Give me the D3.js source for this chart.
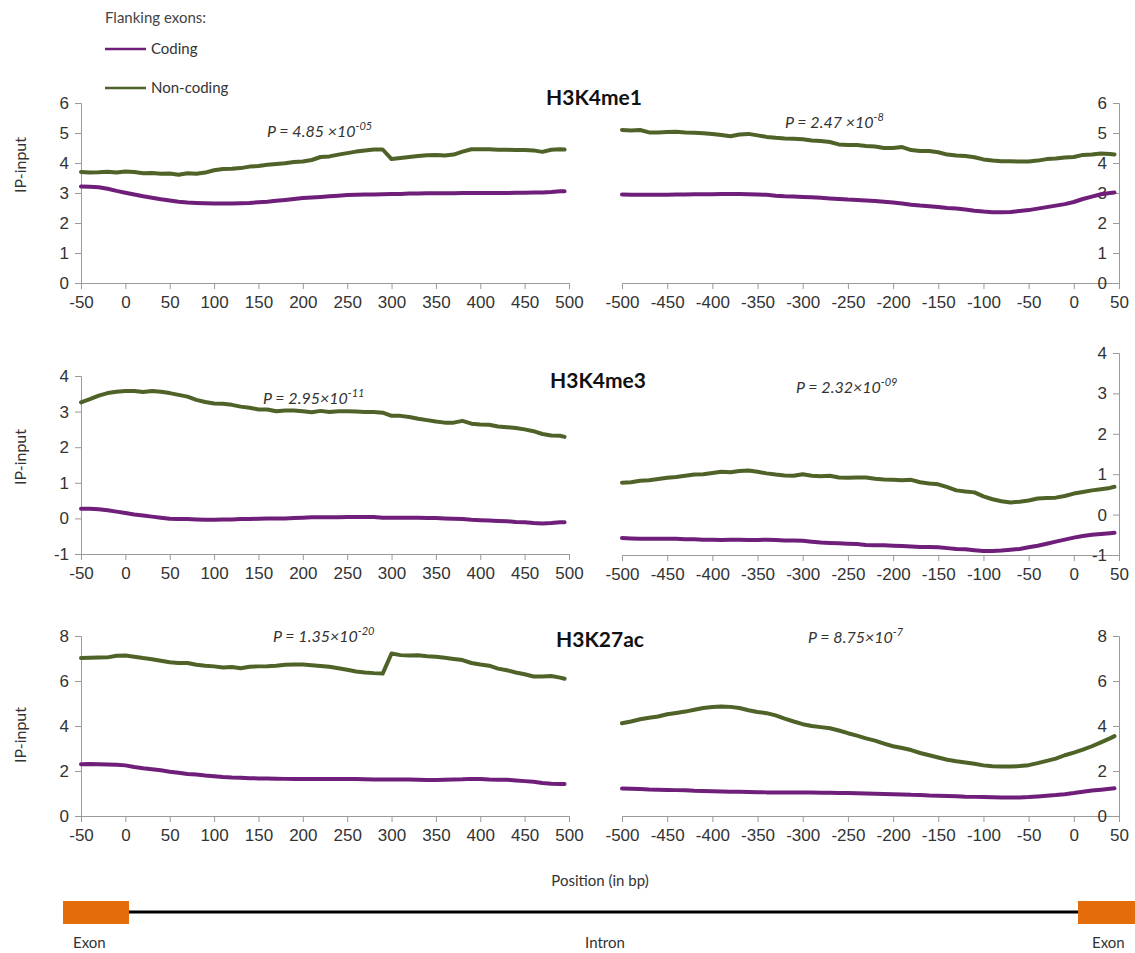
<!DOCTYPE html>
<html>
<head>
<meta charset="utf-8">
<script src="https://cdn.jsdelivr.net/npm/d3@7"></script>
<style>
  html, body { margin: 0; padding: 0; background: #fff; }
  svg { display: block; font-family: Lato, "Open Sans", sans-serif; }
  .tick text { font-size: 17px; fill: #333; }
  .axis path, .axis line { stroke: #9a9a9a; stroke-width: 1; }
</style>
</head>
<body>
<svg id="chart" width="1135" height="953"></svg>
<script>
// Sample positions (bp) for the exon-proximal (left) and exon-distal (right) windows
const posLeft = [...d3.range(-50, 500, 10), 495];
const posRight = [...d3.range(-500, 50, 10), 45];

// H3K4me1
const me1LeftNoncoding = [3.70,3.68,3.69,3.71,3.68,3.72,3.70,3.66,3.67,3.64,3.65,3.61,3.66,3.64,3.68,3.76,3.80,3.81,3.83,3.88,3.90,3.94,3.97,3.99,4.03,4.05,4.10,4.20,4.22,4.28,4.33,4.38,4.42,4.45,4.45,4.13,4.17,4.20,4.23,4.26,4.27,4.25,4.28,4.38,4.46,4.46,4.46,4.44,4.44,4.43,4.43,4.42,4.37,4.44,4.46,4.45];
const me1LeftCoding = [3.22,3.21,3.19,3.14,3.07,3.01,2.95,2.89,2.84,2.79,2.75,2.71,2.68,2.67,2.66,2.65,2.65,2.65,2.66,2.67,2.69,2.71,2.74,2.77,2.80,2.83,2.85,2.87,2.89,2.91,2.93,2.94,2.95,2.95,2.96,2.97,2.97,2.98,2.98,2.99,2.99,2.99,2.99,3.00,3.00,3.00,3.00,3.00,3.00,3.01,3.01,3.02,3.02,3.03,3.06,3.06];
const me1RightNoncoding = [5.10,5.08,5.10,5.02,5.02,5.03,5.04,5.02,5.01,4.99,4.97,4.93,4.89,4.95,4.97,4.92,4.87,4.84,4.82,4.81,4.79,4.75,4.73,4.70,4.62,4.60,4.60,4.57,4.55,4.50,4.50,4.53,4.43,4.40,4.40,4.36,4.28,4.25,4.23,4.19,4.12,4.08,4.06,4.06,4.05,4.05,4.08,4.13,4.15,4.18,4.20,4.27,4.28,4.32,4.30,4.28];
const me1RightCoding = [2.95,2.94,2.94,2.94,2.94,2.94,2.95,2.95,2.96,2.96,2.96,2.97,2.97,2.97,2.96,2.95,2.94,2.91,2.89,2.88,2.87,2.86,2.84,2.82,2.80,2.78,2.77,2.75,2.73,2.71,2.68,2.65,2.61,2.58,2.56,2.53,2.50,2.48,2.45,2.41,2.38,2.36,2.36,2.37,2.40,2.43,2.48,2.53,2.58,2.63,2.70,2.80,2.88,2.96,3.00,3.02];

// H3K4me3
const me3LeftNoncoding = [3.26,3.35,3.45,3.52,3.56,3.58,3.58,3.55,3.58,3.56,3.52,3.47,3.42,3.33,3.27,3.23,3.22,3.19,3.14,3.11,3.06,3.06,3.01,3.03,3.03,3.01,2.98,3.02,2.99,3.01,3.01,3.00,2.99,2.99,2.97,2.88,2.88,2.85,2.80,2.76,2.72,2.69,2.69,2.74,2.66,2.64,2.63,2.58,2.56,2.54,2.50,2.45,2.37,2.33,2.32,2.29];
const me3LeftCoding = [0.27,0.27,0.26,0.23,0.19,0.15,0.11,0.08,0.05,0.02,-0.01,-0.02,-0.02,-0.03,-0.04,-0.04,-0.03,-0.03,-0.02,-0.02,-0.01,0.00,0.00,0.00,0.01,0.02,0.03,0.03,0.03,0.03,0.04,0.04,0.04,0.04,0.02,0.02,0.02,0.02,0.02,0.01,0.01,0.00,-0.01,-0.02,-0.04,-0.05,-0.06,-0.07,-0.08,-0.10,-0.11,-0.13,-0.14,-0.13,-0.11,-0.11];
const me3RightNoncoding = [0.79,0.80,0.84,0.85,0.88,0.91,0.93,0.96,0.99,1.00,1.03,1.06,1.05,1.08,1.09,1.06,1.02,0.99,0.97,0.96,1.00,0.96,0.95,0.96,0.92,0.91,0.92,0.92,0.89,0.87,0.86,0.85,0.86,0.80,0.77,0.75,0.68,0.60,0.57,0.55,0.45,0.38,0.33,0.30,0.32,0.35,0.40,0.41,0.42,0.46,0.52,0.56,0.60,0.63,0.66,0.69];
const me3RightCoding = [-0.58,-0.59,-0.60,-0.60,-0.60,-0.60,-0.60,-0.61,-0.61,-0.62,-0.62,-0.63,-0.62,-0.62,-0.63,-0.63,-0.62,-0.63,-0.64,-0.64,-0.65,-0.67,-0.69,-0.70,-0.71,-0.72,-0.73,-0.75,-0.76,-0.76,-0.77,-0.78,-0.79,-0.80,-0.80,-0.81,-0.83,-0.85,-0.86,-0.88,-0.90,-0.90,-0.89,-0.87,-0.85,-0.81,-0.77,-0.72,-0.67,-0.62,-0.57,-0.53,-0.50,-0.48,-0.46,-0.45];

// H3K27ac
const ac27LeftNoncoding = [7.02,7.03,7.04,7.05,7.12,7.13,7.08,7.02,6.97,6.90,6.83,6.80,6.80,6.72,6.68,6.65,6.60,6.62,6.57,6.63,6.65,6.66,6.68,6.72,6.73,6.73,6.70,6.67,6.63,6.57,6.50,6.42,6.38,6.35,6.33,7.22,7.15,7.13,7.14,7.10,7.08,7.03,6.98,6.93,6.80,6.73,6.68,6.55,6.48,6.38,6.30,6.20,6.20,6.22,6.15,6.10];
const ac27LeftCoding = [2.30,2.31,2.30,2.29,2.28,2.25,2.18,2.12,2.08,2.03,1.97,1.92,1.87,1.84,1.80,1.77,1.73,1.71,1.70,1.68,1.67,1.67,1.66,1.65,1.64,1.65,1.65,1.65,1.65,1.65,1.65,1.64,1.63,1.62,1.62,1.62,1.62,1.62,1.61,1.60,1.60,1.61,1.62,1.63,1.65,1.64,1.62,1.61,1.61,1.58,1.55,1.52,1.47,1.43,1.42,1.42];
const ac27RightNoncoding = [4.12,4.20,4.30,4.37,4.42,4.52,4.58,4.64,4.72,4.80,4.84,4.87,4.85,4.80,4.70,4.62,4.57,4.47,4.33,4.20,4.08,4.00,3.95,3.90,3.80,3.68,3.57,3.45,3.35,3.22,3.10,3.02,2.93,2.80,2.70,2.60,2.50,2.43,2.38,2.32,2.25,2.21,2.20,2.20,2.22,2.26,2.35,2.45,2.55,2.70,2.82,2.95,3.10,3.27,3.45,3.55];
const ac27RightCoding = [1.22,1.21,1.20,1.18,1.17,1.16,1.15,1.14,1.12,1.11,1.10,1.09,1.08,1.08,1.07,1.06,1.05,1.05,1.05,1.04,1.04,1.04,1.03,1.03,1.02,1.02,1.01,1.00,0.99,0.98,0.97,0.96,0.94,0.93,0.91,0.90,0.89,0.88,0.86,0.85,0.84,0.83,0.82,0.82,0.82,0.84,0.87,0.90,0.93,0.97,1.02,1.08,1.13,1.17,1.21,1.23];

// Marks, axis ranges and P-values
const markNames = ["H3K4me1", "H3K4me3", "H3K27ac"];
const yDomains = [[0, 6], [-1, 4], [0, 8]];
const yTickSteps = [1, 1, 2];
const pLeft = [["4.85 ", "-05"], ["2.95", "-11"], ["1.35", "-20"]];
const pRight = [["2.47 ", "-8"], ["2.32", "-09"], ["8.75", "-7"]];
const leftTicks = d3.range(-50, 501, 50);
const rightTicks = d3.range(-500, 51, 50);

const seriesNames = ["Coding", "Non-coding"];
const colors = { "Coding": "#6f1f79", "Non-coding": "#4f6228" };

const data = [
  { left: [me1LeftCoding, me1LeftNoncoding], right: [me1RightCoding, me1RightNoncoding] },
  { left: [me3LeftCoding, me3LeftNoncoding], right: [me3RightCoding, me3RightNoncoding] },
  { left: [ac27LeftCoding, ac27LeftNoncoding], right: [ac27RightCoding, ac27RightNoncoding] }
];

// Panel layout (pixels)
const layout = [
  { title: [594, 105], left: [283, 103], right: [283, 103], pL: [267, 137], pR: [785, 128], ylab: 165 },
  { title: [598, 388], left: [554, 376], right: [555, 353], pL: [263, 404], pR: [796, 393], ylab: 457 },
  { title: [600, 647], left: [816, 636], right: [816, 636], pL: [273, 642], pR: [808, 643], ylab: 735 }
];
const xLeftRange = [81, 569];
const xRightRange = [622, 1119];

const svg = d3.select("#chart");

function drawPValue(g, x, y, parts) {
  const t = g.append("text").attr("x", x).attr("y", y)
    .attr("font-style", "italic").attr("font-size", 16).attr("fill", "#333");
  t.append("tspan").text("P = " + parts[0] + "\u00d710");
  t.append("tspan").attr("font-size", 11).attr("dy", -7).text(parts[1]);
}

layout.forEach((L, i) => {
  const g = svg.append("g");
  const dom = yDomains[i];
  const ticksY = d3.range(dom[0], dom[1] + 0.001, yTickSteps[i]);

  // left window
  const xL = d3.scaleLinear().domain([-50, 500]).range(xLeftRange);
  const yL = d3.scaleLinear().domain(dom).range(L.left);
  g.append("g").attr("class", "axis").attr("transform", `translate(0,${L.left[0]})`)
    .call(d3.axisBottom(xL).tickValues(leftTicks).tickSize(6).tickSizeOuter(6).tickPadding(7).tickFormat(d3.format("d")));
  g.append("g").attr("class", "axis").attr("transform", `translate(${xLeftRange[0]},0)`)
    .call(d3.axisLeft(yL).tickValues(ticksY).tickSize(6).tickSizeOuter(6).tickPadding(6).tickFormat(d3.format("d")));

  // right window
  const xR = d3.scaleLinear().domain([-500, 50]).range(xRightRange);
  const yR = d3.scaleLinear().domain(dom).range(L.right);
  g.append("g").attr("class", "axis").attr("transform", `translate(0,${L.right[0]})`)
    .call(d3.axisBottom(xR).tickValues(rightTicks).tickSize(6).tickSizeOuter(6).tickPadding(7).tickFormat(d3.format("d")));
  g.append("g").attr("class", "axis").attr("transform", `translate(${xRightRange[1]},0)`)
    .call(d3.axisLeft(yR).tickValues(ticksY).tickSize(6).tickSizeOuter(6).tickPadding(6).tickFormat(d3.format("d")));

  // minus signs as plain hyphens, like the source software
  g.selectAll(".tick text").text(function () { return d3.select(this).text().replace("\u2212", "-"); });

  const lineL = d3.line().x((d, j) => xL(posLeft[j])).y(d => yL(d));
  const lineR = d3.line().x((d, j) => xR(posRight[j])).y(d => yR(d));
  seriesNames.forEach((name, k) => {
    g.append("path").datum(data[i].left[k]).attr("d", lineL)
      .attr("fill", "none").attr("stroke", colors[name]).attr("stroke-width", 4)
      .attr("stroke-linejoin", "round").attr("stroke-linecap", "round");
    g.append("path").datum(data[i].right[k]).attr("d", lineR)
      .attr("fill", "none").attr("stroke", colors[name]).attr("stroke-width", 4)
      .attr("stroke-linejoin", "round").attr("stroke-linecap", "round");
  });

  g.append("text").attr("x", L.title[0]).attr("y", L.title[1]).attr("text-anchor", "middle")
    .attr("font-weight", "bold").attr("font-size", 21).attr("fill", "#111").text(markNames[i]);

  drawPValue(g, L.pL[0], L.pL[1], pLeft[i]);
  drawPValue(g, L.pR[0], L.pR[1], pRight[i]);

  g.append("text").attr("transform", `translate(26,${L.ylab}) rotate(-90)`)
    .attr("text-anchor", "middle").attr("font-size", 16).attr("fill", "#333").text("IP-input");
});

// Legend
const legend = svg.append("g");
legend.append("text").attr("x", 105).attr("y", 23).attr("font-size", 15).attr("fill", "#444").text("Flanking exons:");
seriesNames.forEach((name, k) => {
  const y = 49 + k * 39;
  legend.append("line").attr("x1", 105).attr("x2", 146).attr("y1", y).attr("y2", y)
    .attr("stroke", colors[name]).attr("stroke-width", 2.5);
  legend.append("text").attr("x", 151).attr("y", y + 5).attr("font-size", 15).attr("fill", "#333").text(name);
});

// Axis title and gene-structure schematic
svg.append("text").attr("x", 600).attr("y", 886).attr("text-anchor", "middle")
  .attr("font-size", 15).attr("fill", "#333").text("Position (in bp)");
svg.append("line").attr("x1", 128).attr("x2", 1080).attr("y1", 912).attr("y2", 912)
  .attr("stroke", "#000").attr("stroke-width", 3);
svg.append("rect").attr("x", 63).attr("y", 901).attr("width", 66).attr("height", 23).attr("fill", "#e46c0a");
svg.append("rect").attr("x", 1078).attr("y", 901).attr("width", 66).attr("height", 23).attr("fill", "#e46c0a");
svg.append("text").attr("x", 73).attr("y", 948).attr("font-size", 15).attr("fill", "#333").text("Exon");
svg.append("text").attr("x", 605).attr("y", 948).attr("text-anchor", "middle").attr("font-size", 15).attr("fill", "#333").text("Intron");
svg.append("text").attr("x", 1092).attr("y", 948).attr("font-size", 15).attr("fill", "#333").text("Exon");
</script>
</body>
</html>
